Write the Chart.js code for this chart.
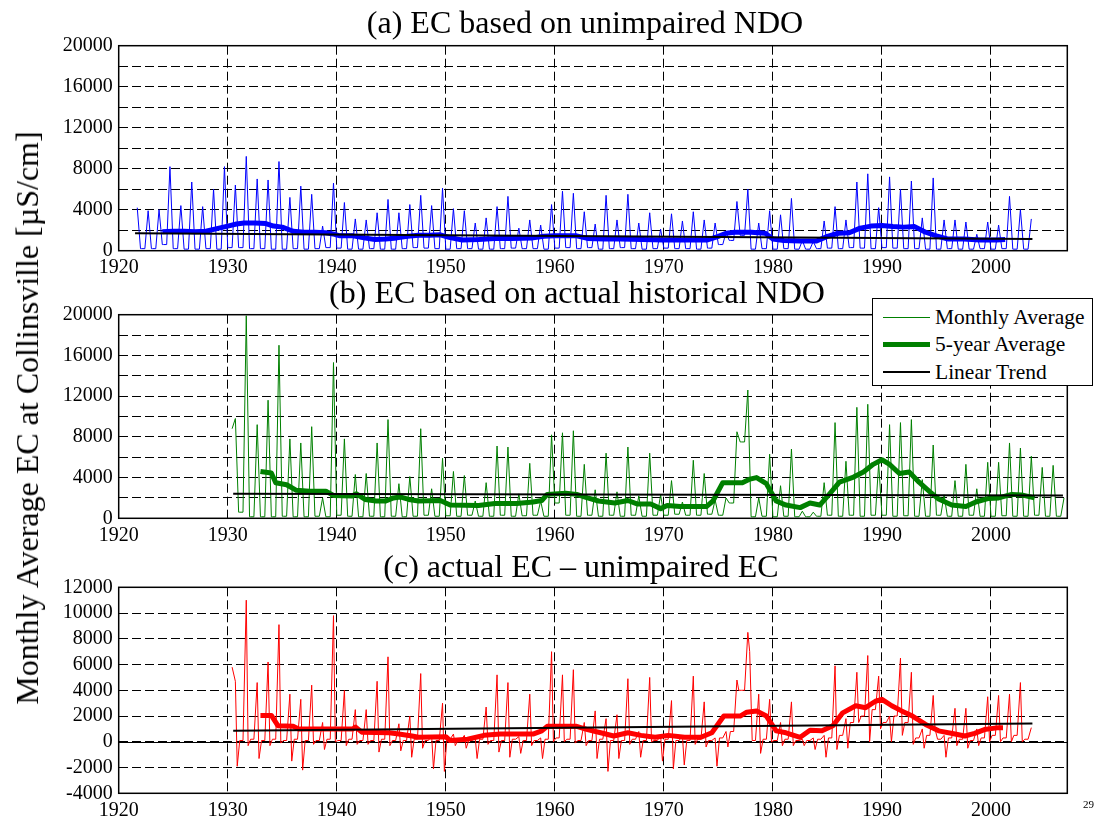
<!DOCTYPE html>
<html>
<head>
<meta charset="utf-8">
<script src="https://cdn.jsdelivr.net/npm/chart.js@4.4.1/dist/chart.umd.min.js"></script>
<style>
  body { margin: 0; background: #fff; width: 1098px; height: 820px; position: relative; overflow: hidden; font-family: "Liberation Serif", "Times New Roman", serif; color: #000; }
  canvas { position: absolute; left: 0; }
  .ttl { position: absolute; font-size: 32px; white-space: nowrap; transform: translateX(-50%); line-height: 1; }
  #ylab { position: absolute; left: 27px; top: 418px; font-size: 32px; white-space: nowrap; transform: translate(-50%, -50%) rotate(-90deg); line-height: 1; }
  #legend { position: absolute; left: 872px; top: 298px; width: 221px; height: 88px; border: 1px solid #000; background: #fff; z-index: 5; box-sizing: border-box; }
  .row { position: absolute; left: 0; width: 219px; height: 26px; font-size: 21.5px; line-height: 26px; }
  .ln { position: absolute; left: 10px; width: 47px; }
  .tx { position: absolute; left: 62px; top: 0; white-space: nowrap; }
  #page { position: absolute; left: 1083px; top: 798px; font-size: 11px; }
</style>
</head>
<body>
<canvas id="cA" width="1098" height="290" style="top:0px"></canvas>
<canvas id="cB" width="1098" height="270" style="top:290px"></canvas>
<canvas id="cC" width="1098" height="260" style="top:560px"></canvas>

<div class="ttl" style="left:585px; top:6px">(a) EC based on unimpaired NDO</div>
<div class="ttl" style="left:577px; top:276px">(b) EC based on actual historical NDO</div>
<div class="ttl" style="left:581px; top:550px">(c) actual EC – unimpaired EC</div>
<div id="ylab">Monthly Average EC at Collinsville [µS/cm]</div>

<div id="legend">
  <div class="row" style="top:5px"><div class="ln" style="top:13px; height:1px; background:#008000"></div><div class="tx">Monthly Average</div></div>
  <div class="row" style="top:32px"><div class="ln" style="top:11px; height:5px; background:#008000"></div><div class="tx">5-year Average</div></div>
  <div class="row" style="top:60px"><div class="ln" style="top:12px; height:2px; background:#000"></div><div class="tx">Linear Trend</div></div>
</div>
<div id="page">29</div>

<script>
// x axis tick labels (all panels)
const xTicks = [1920, 1930, 1940, 1950, 1960, 1970, 1980, 1990, 2000];
const yTicksAB = [0, 2000, 4000, 6000, 8000, 10000, 12000, 14000, 16000, 18000, 20000];
const yTicksC = [-4000, -2000, 0, 2000, 4000, 6000, 8000, 10000, 12000];

// (a) unimpaired NDO, one value per water year starting 1921
const firstA = 1921;
const peakA = [
  4200, 3900, 4000, 8200, 4400, 6700, 4300, 6000, 8200, 6400,
  9200, 7000, 6900, 8700, 5200, 6300, 5500, 2400, 6600, 4700,
  3100, 3000, 3700, 5000, 3700, 4500, 5400, 4400, 6100, 4100,
  3900, 2700, 3200, 4300, 5300, 2200, 3000, 2500, 4500, 5800,
  5600, 3800, 2600, 5400, 3000, 5500, 2700, 3700, 2100, 3600,
  2900, 3800, 3000, 2700, 1800, 4800, 6000, 2700, 3900, 3500,
  5100, 1000, 900, 2900, 4300, 3000, 6700, 7500, 4200, 7200,
  6000, 6800, 3200, 7100, 3000, 3000, 2800, 1600, 2800, 2500,
  5300, 4000, 3100
];
const baseA = [
  1700, 200, 200, 600, 200, 150, 150, 200, 150, 300,
  300, 200, 200, 150, 150, 200, 150, 200, 300, 250,
  150, 150, 200, 150, 150, 200, 300, 250, 200, 150,
  200, 200, 150, 150, 200, 250, 200, 200, 150, 250,
  300, 200, 300, 150, 200, 300, 200, 150, 200, 250,
  200, 200, 150, 250, 600, 1000, 1500, 150, 200, 150,
  200, 150, 150, 200, 250, 200, 300, 250, 200, 300,
  250, 200, 200, 150, 150, 200, 150, 150, 200, 150,
  200, 150, 150
];
const avgA = [
  [1924.0, 1850], [1925, 1900], [1926, 1900], [1927, 1850], [1928, 1900], [1929, 2150],
  [1930, 2400], [1930.8, 2600], [1931.5, 2700], [1932.5, 2700], [1933.5, 2650], [1934.2, 2400],
  [1935, 2300], [1936, 1900], [1937, 1800], [1938, 1800], [1939, 1750], [1939.8, 1600],
  [1940.3, 1450], [1941.5, 1450], [1942.5, 1250], [1943.5, 1100], [1944.5, 1150], [1945.5, 1250],
  [1946.5, 1400], [1947.5, 1500], [1948.5, 1500], [1949.5, 1550], [1950.3, 1300], [1951.5, 1050],
  [1953, 1100], [1954.5, 1200], [1956, 1200], [1958, 1250], [1959, 1400], [1960, 1450],
  [1962, 1450], [1963, 1200], [1964.5, 1150], [1966, 1150], [1968, 1100], [1970, 1050],
  [1972, 1050], [1974, 1050], [1975, 1400], [1975.7, 1700], [1976.5, 1800], [1978, 1800],
  [1979.3, 1700], [1980, 1150], [1981, 1000], [1982.5, 950], [1984, 950], [1985, 1400],
  [1986, 1700], [1987, 1750], [1988, 2200], [1989, 2400], [1990, 2450], [1991, 2350],
  [1992, 2300], [1993, 2350], [1994, 1800], [1995, 1450], [1996, 1150], [1997.5, 1150],
  [1999, 1050], [2000.5, 1050], [2001.3, 1100]
];
const trendA = [[1921.5, 1700], [2003.8, 1150]];

// (b) actual historical NDO, starting 1930
const firstB = 1930;
const peakB = [
  9800, 19900, 9200, 11600, 17000, 7800, 7400, 9000, 2000, 15300,
  7800, 4300, 4400, 7400, 9700, 3400, 4100, 8800, 2900, 5900,
  4600, 4200, 1700, 3500, 7100, 7000, 2400, 5400, 1700, 8200,
  8400, 8600, 5300, 2800, 6400, 2600, 7000, 2200, 6400, 2300,
  3700, 1600, 5700, 4400, 1800, 2000, 8500, 12600, 2000, 6300,
  3200, 6800, 700, 600, 3500, 9400, 5600, 10900, 11200, 5400,
  9200, 9400, 9700, 3800, 7200, 2300, 3700, 5300, 2900, 5500,
  5500, 7400, 6900, 6100, 5000, 5200, 2000
];
const baseB = [
  8800, 600, 150, 150, 150, 200, 150, 150, 200, 150,
  300, 200, 150, 200, 150, 200, 150, 200, 300, 200,
  250, 200, 300, 200, 200, 300, 200, 250, 300, 200,
  1500, 300, 200, 300, 200, 300, 200, 300, 200, 300,
  300, 400, 300, 300, 400, 300, 1500, 7500, 150, 200,
  150, 200, 150, 150, 200, 300, 200, 300, 200, 300,
  300, 200, 250, 200, 200, 300, 200, 200, 300, 200,
  200, 250, 200, 200, 300, 200, 200
];
const avgB = [
  [1933.0, 4600], [1934.0, 4450], [1934.4, 3500], [1935.4, 3300], [1936.3, 2750], [1937.5, 2650],
  [1939, 2650], [1939.7, 2250], [1941.4, 2200], [1941.8, 2400], [1942.6, 1850], [1943.6, 1700],
  [1944.5, 1700], [1945.2, 2000], [1945.8, 2100], [1946.6, 1850], [1947.5, 1700], [1949.5, 1750],
  [1950.4, 1300], [1953, 1250], [1954.5, 1450], [1956.5, 1450], [1958, 1600], [1958.8, 1750],
  [1959.3, 2350], [1961, 2450], [1962, 2350], [1963, 2000], [1964, 1700], [1965.5, 1500],
  [1966.7, 1750], [1967.6, 1400], [1968.8, 1400], [1969.7, 950], [1970.3, 1250], [1971.5, 1150],
  [1973.9, 1150], [1974.5, 1700], [1975.4, 3500], [1977.2, 3500], [1977.9, 3850], [1978.5, 4000],
  [1979.4, 3400], [1980.3, 1700], [1981.2, 1300], [1982.5, 1050], [1983.4, 1500], [1984.3, 1300],
  [1985.2, 2400], [1986.1, 3550], [1987.4, 4050], [1988.3, 4550], [1989.2, 5300], [1990.0, 5750],
  [1990.7, 5300], [1991.6, 4400], [1992.5, 4550], [1993.4, 3550], [1994.4, 2600], [1995.2, 1900],
  [1996.4, 1300], [1997.7, 1150], [1998.6, 1600], [1999.8, 1950], [2000.7, 2000], [2001.9, 2350],
  [2002.8, 2300], [2004.0, 2000]
];
const trendB = [[1930.5, 2400], [2006.6, 2250]];

// (c) actual minus unimpaired, starting 1930
const firstC = 1930;
const peakC = [
  4700, 11000, 4600, 6200, 9100, 3700, 3300, 4400, 1500, 9800,
  4000, 2500, 2500, 4700, 6600, 1400, 2000, 5300, 500, 3000,
  600, 500, 300, 2700, 5200, 4600, 400, 3700, 300, 7000,
  5200, 5600, 1500, 2400, 1800, 2100, 4900, 800, 5000, 500,
  3200, 500, 5100, 3100, 300, 800, 4800, 8500, 3700, 3300,
  1500, 3100, 200, 300, 500, 5900, 1800, 5400, 6700, 5100,
  2000, 6500, 5400, 1000, 3600, 500, 2600, 2600, 1000, 3500,
  3600, 3700, 4600, 1100
];
const dipC = [
  -1900, -300, -1300, -300, -100, -1500, -2200, -200, -600, 0,
  -300, -200, -200, -800, -300, -700, -1200, -500, -2100, -2300,
  -300, -500, -1300, -200, -800, -1200, -900, -300, -1300, 0,
  0, -100, -300, -1300, -2300, -1300, -200, -1200, 0, -1500,
  -2100, -1800, -200, -400, -1900, -400, 4000, 7000, -900, 0,
  -300, -300, -300, -600, -1200, -600, -500, 1500, 0, 1000,
  0, 500, -200, -500, 1000, -1200, -300, -500, -300, 0,
  0, 0, 0, 500
];
const baseC = [
  5800, 100, 200, 100, 200, 100, 200, 100, 100, 200,
  100, 200, 100, 100, 200, 100, 100, 200, 100, 100,
  200, 100, 100, 200, 100, 100, 200, 100, 100, 200,
  300, 200, 100, 100, 200, 100, 100, 200, 100, 100,
  200, 100, 100, 200, 100, 300, 800, 4000, 100, 200,
  100, 200, 100, 100, 200, 300, 500, 1500, 2000, 2500,
  1500, 2000, 1500, 300, 500, 200, 300, 200, 100, 300,
  500, 300, 500, 200
];
const avgC = [
  [1933.0, 2050], [1934.0, 2050], [1934.6, 1250], [1936, 1200], [1936.5, 1000], [1941.5, 1000],
  [1941.7, 1150], [1942.3, 750], [1944.8, 700], [1945.7, 600], [1946.9, 450], [1947.5, 350],
  [1950, 400], [1950.4, 100], [1952, 200], [1953.5, 500], [1955, 600], [1958, 600],
  [1958.8, 850], [1959.3, 1200], [1962, 1200], [1963, 950], [1964.2, 700], [1965.4, 450],
  [1966.7, 700], [1967.9, 500], [1969.2, 350], [1970.4, 500], [1971.9, 350], [1973.4, 350],
  [1974.4, 700], [1975.5, 2000], [1977, 2000], [1977.6, 2300], [1978.5, 2400], [1979.4, 2000],
  [1980.3, 850], [1981.2, 700], [1982.5, 350], [1983.4, 900], [1984.5, 850], [1985.5, 1250],
  [1986.4, 2250], [1987.6, 2800], [1988.5, 2650], [1989.4, 3150], [1990, 3300], [1990.9, 2800],
  [1991.8, 2400], [1992.8, 2000], [1994, 1350], [1995.2, 850], [1996.7, 600], [1997.6, 450],
  [1998.5, 650], [1999.4, 950], [2000.7, 1100], [2001.1, 1100]
];
const trendC = [[1930.5, 850], [2003.8, 1420]];

// turn per-year base/peak(/dip) readings into line vertices
function seasonal(first, base, peak, dip, from, to) {
  const pts = [];
  base.forEach((b, i) => {
    const yr = first + i;
    pts.push({ x: yr + 0.1, y: b }, { x: yr + 0.4, y: b }, { x: yr + 0.7, y: peak[i] });
    if (dip) pts.push({ x: yr + 0.87, y: dip[i] });
    else pts.push({ x: yr + 1.0, y: base[i + 1] !== undefined ? base[i + 1] : b });
  });
  return pts.filter(p => p.x >= from && p.x <= to);
}
const toXY = arr => arr.map(p => ({ x: p[0], y: p[1] }));

const tickFont = { family: "Liberation Serif", size: 20 };

// box frame + optional zero line
const framePlugin = {
  id: 'frame',
  beforeDatasetsDraw(chart, args, opts) {
    if (!opts.zero) return;
    const { ctx, chartArea } = chart;
    const y0 = Math.round(chart.scales.y.getPixelForValue(0)) + 0.5;
    ctx.save();
    ctx.strokeStyle = '#000';
    ctx.lineWidth = 1;
    ctx.beginPath();
    ctx.moveTo(chartArea.left, y0);
    ctx.lineTo(chartArea.right, y0);
    ctx.stroke();
    ctx.restore();
  },
  afterDraw(chart) {
    const { ctx, chartArea: a } = chart;
    ctx.save();
    ctx.strokeStyle = '#000';
    ctx.lineWidth = 1.5;
    ctx.strokeRect(a.left, a.top, a.right - a.left, a.bottom - a.top);
    ctx.restore();
  }
};

function makePanel(id, o) {
  const ctx = document.getElementById(id);
  return new Chart(ctx, {
    type: 'line',
    data: {
      datasets: [
        { label: 'Linear Trend', data: toXY(o.trend), borderColor: '#000', borderWidth: 2 },
        { label: '5-year Average', data: toXY(o.avg), borderColor: o.color, borderWidth: 5 },
        { label: 'Monthly Average', data: o.monthly, borderColor: o.color, borderWidth: 1 }
      ]
    },
    options: {
      responsive: false,
      animation: false,
      devicePixelRatio: 1,
      elements: { point: { radius: 0 }, line: { tension: 0, fill: false, borderJoinStyle: 'round' } },
      layout: { padding: { top: o.padTop, right: 30.7, bottom: 0, left: 0 } },
      plugins: { legend: { display: false }, tooltip: { enabled: false }, frame: { zero: o.zero } },
      scales: {
        x: {
          type: 'linear',
          min: 1920,
          max: 2007,
          afterBuildTicks: s => { s.ticks = xTicks.map(v => ({ value: v })); },
          afterFit: s => { s.height = o.xHeight; },
          ticks: { font: tickFont, color: '#000', padding: 5, maxRotation: 0, autoSkip: false, callback: v => String(v) },
          grid: { color: '#000', lineWidth: 1, drawTicks: false },
          border: { display: false, dash: [9, 4] }
        },
        y: {
          min: o.yTicks[0],
          max: o.yTicks[o.yTicks.length - 1],
          afterBuildTicks: s => { s.ticks = o.yTicks.map(v => ({ value: v })); },
          afterFit: s => { s.width = 118.7; },
          ticks: { font: tickFont, color: '#000', padding: 6, autoSkip: false, callback: v => (v % o.labelStep === 0 ? String(v) : '') },
          grid: { color: '#000', lineWidth: 1, drawTicks: false },
          border: { display: false, dash: [9, 4] }
        }
      }
    },
    plugins: [framePlugin]
  });
}

makePanel('cA', {
  color: '#0000ff', padTop: 45.7, xHeight: 39.3, yTicks: yTicksAB, labelStep: 4000,
  monthly: seasonal(firstA, baseA, peakA, null, 1921.5, 2003.8), avg: avgA, trend: trendA
});
makePanel('cB', {
  color: '#008000', padTop: 24.7, xHeight: 41.7, yTicks: yTicksAB, labelStep: 4000,
  monthly: seasonal(firstB, baseB, peakB, null, 1930.4, 2006.8), avg: avgB, trend: trendB
});
makePanel('cC', {
  color: '#ff0000', padTop: 27.3, xHeight: 26.7, yTicks: yTicksC, labelStep: 2000, zero: true,
  monthly: seasonal(firstC, baseC, peakC, dipC, 1930.4, 2003.8), avg: avgC, trend: trendC
});
</script>
</body>
</html>
